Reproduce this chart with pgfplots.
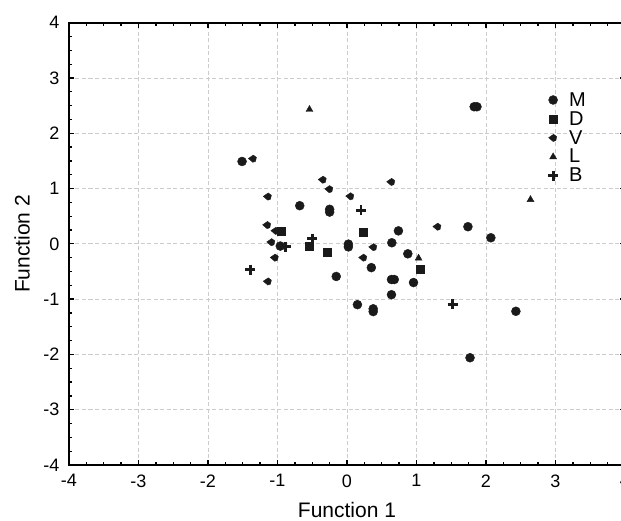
\documentclass[border=0pt]{standalone}
\usepackage{fontspec}
\setmainfont{Liberation Sans}
\usepackage{pgfplots}
\pgfplotsset{compat=1.18}
\definecolor{mk}{HTML}{1A1A1A}
\pgfdeclareplotmark{vk}{%
  \pgfpathmoveto{\pgfqpoint{-\pgfplotmarksize}{0.05\pgfplotmarksize}}%
  \pgfpathlineto{\pgfqpoint{0.1\pgfplotmarksize}{0.8\pgfplotmarksize}}%
  \pgfpathlineto{\pgfqpoint{0.8\pgfplotmarksize}{0.3\pgfplotmarksize}}%
  \pgfpathlineto{\pgfqpoint{0.6\pgfplotmarksize}{-0.6\pgfplotmarksize}}%
  \pgfpathlineto{\pgfqpoint{0pt}{-0.8\pgfplotmarksize}}%
  \pgfpathclose\pgfusepathqfillstroke}
\begin{document}
\begin{tikzpicture}
\begin{axis}[name=ax, scale only axis, width=556pt, height=442.3pt,
  xmin=-4, xmax=4, ymin=-4, ymax=4,
  xtick={-4,...,4}, ytick={-4,...,4},
  minor tick num=3,
  tick align=inside, major tick length=5pt, minor tick length=3pt,
  every tick/.style={black, line width=1.3pt},
  xtick pos=both, ytick pos=both,
  axis line style={line width=1.7pt},
  grid=major, major grid style={dash pattern=on 4pt off 2.5pt, black!20, line width=0.8pt},
  /pgf/number format/assume math mode=true,
  ticklabel style={font=\fontsize{18}{20}\selectfont},
  xticklabel style={yshift=-6pt},
  yticklabel style={xshift=-6pt},
  xlabel={Function 1}, ylabel={Function 2},
  label style={font=\fontsize{21}{23}\selectfont},
  xlabel style={at={(axis description cs:0.5,-0.1017)}, anchor=center},
  ylabel style={at={(axis description cs:-0.0845,0.5)}, anchor=center},
  legend style={at={(0.856,0.852)}, anchor=north west, draw=none, fill=none,
    font=\fontsize{20}{20}\selectfont, row sep=-0.3pt, column sep=9pt, cells={anchor=west}},
  legend cell align=left,
]
\addplot[only marks, color=mk, mark=*, mark size=4.5pt] coordinates {
(-1.51,1.49) (-0.68,0.69) (-0.25,0.575) (-0.25,0.625) (0.74,0.235) (0.645,0.02)
(0.02,-0.055) (0.02,-0.005) (0.875,-0.18) (0.35,-0.43) (-0.155,-0.59)
(0.64,-0.645) (0.68,-0.645) (0.957,-0.70) (0.64,-0.92) (0.15,-1.10)
(0.377,-1.175) (0.377,-1.225) (1.74,0.31) (2.07,0.11) (1.83,2.48) (1.87,2.48)
(2.43,-1.22) (1.77,-2.06) (-0.96,-0.04)
};
\addlegendentry{M}
\addplot[only marks, color=mk, mark=square*, mark size=4pt] coordinates {
(-0.95,0.235) (0.237,0.21) (-0.55,-0.05) (-0.285,-0.16) (1.06,-0.45)
};
\addlegendentry{D}
\addplot[only marks, color=mk, mark=vk, mark size=4.5pt] coordinates {
(-1.355,1.54) (-0.35,1.16) (-0.256,0.99) (0.046,0.86) (0.636,1.12)
(-1.14,0.855) (-1.15,0.34) (-1.09,0.03) (-1.04,-0.25) (-1.14,-0.68)
(0.377,-0.06) (0.233,-0.25) (1.30,0.31) (-1.03,0.235)
};
\addlegendentry{V}
\addplot[only marks, color=mk, mark=triangle*, mark size=4pt] coordinates {
(2.64,0.80) (1.03,-0.26) (-0.54,2.43)
};
\addlegendentry{L}
\addplot[only marks, color=mk, mark=+, mark size=5pt, mark options={line width=2.8pt}] coordinates {
(0.20,0.61) (-0.50,0.09) (-0.88,-0.05) (-1.39,-0.465) (1.52,-1.09)
};
\addlegendentry{B}
\end{axis}
\pgfresetboundingbox
\path ([shift={(-69pt,-56pt)}]ax.south west) rectangle ([shift={(552pt,465pt)}]ax.south west);
\end{tikzpicture}
\end{document}
